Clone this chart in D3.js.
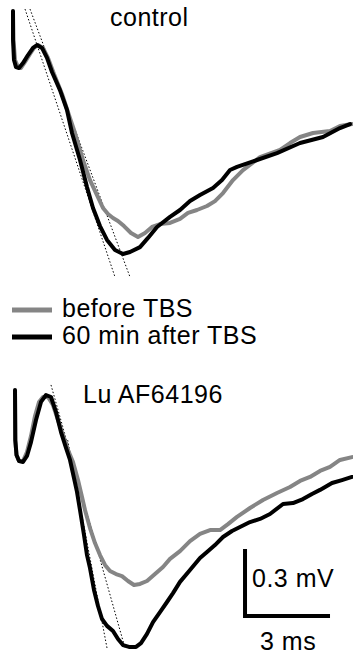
<!DOCTYPE html>
<html>
<head>
<meta charset="utf-8">
<script src="https://cdn.jsdelivr.net/npm/d3@7"></script>
<style>
  html, body { margin: 0; padding: 0; background: #fff; }
  svg { display: block; }
  text { font-family: "Liberation Sans", Arial, Helvetica, sans-serif; font-size: 25px; letter-spacing: 0.5px; fill: #000; }
</style>
</head>
<body>
<svg id="chart" width="353" height="654"></svg>
<script>
// ---- data: time (ms), voltage (mV) ----
const panelTitles = ["control", "Lu AF64196"];
const legendLabels = ["before TBS", "60 min after TBS"];
const scaleBarMs = 3;
const scaleBarMv = 0.3;
const scaleBarLabels = ["0.3 mV", "3 ms"];

// control, before TBS (gray)
const controlBeforeT = [0,0.018,0.071,0.176,0.282,0.424,0.6,0.741,0.882,1.059,1.235,1.447,1.73,2.012,2.188,2.471,2.718,2.965,3.177,3.353,3.53,3.706,3.918,4.165,4.412,4.659,4.906,5.189,5.542,5.895,6.177,6.495,6.848,7.13,7.413,7.766,8.119,8.719,9.425,9.778,10.131,10.59,11.19,11.542,11.966];
const controlBeforeV = [0.148,0.022,-0.067,-0.099,-0.103,-0.076,-0.040,-0.013,0,-0.013,-0.058,-0.130,-0.219,-0.327,-0.394,-0.515,-0.605,-0.672,-0.730,-0.757,-0.775,-0.788,-0.811,-0.842,-0.860,-0.842,-0.815,-0.802,-0.797,-0.779,-0.752,-0.739,-0.721,-0.699,-0.663,-0.605,-0.560,-0.502,-0.470,-0.439,-0.412,-0.394,-0.385,-0.363,-0.354];
// control, 60 min after TBS (black)
const controlAfterT = [0,0.001,0.035,0.106,0.212,0.353,0.529,0.706,0.847,1.024,1.2,1.377,1.659,1.906,2.083,2.365,2.612,2.824,3.071,3.318,3.6,3.883,4.13,4.483,4.765,5.083,5.542,5.895,6.248,6.601,7.06,7.378,7.66,7.907,8.613,9.319,10.131,10.943,11.542,11.895];
const controlAfterV = [0.152,0.022,-0.067,-0.099,-0.103,-0.081,-0.045,-0.013,0,-0.013,-0.058,-0.121,-0.202,-0.291,-0.394,-0.515,-0.636,-0.730,-0.811,-0.873,-0.918,-0.936,-0.927,-0.905,-0.864,-0.815,-0.770,-0.739,-0.699,-0.672,-0.640,-0.605,-0.560,-0.546,-0.515,-0.484,-0.439,-0.412,-0.372,-0.354];
// slope fits, control
const controlFitBlackT = [0.424, 3.6];
const controlFitBlackV = [0.161, -1.039];
const controlFitGrayT = [0.6, 4.13];
const controlFitGrayV = [0.161, -1.039];

// Lu AF64196, before TBS (gray)
const luBeforeT = [0.071,0.081,0.124,0.212,0.353,0.494,0.635,0.777,0.918,1.059,1.235,1.412,1.588,1.765,1.941,2.118,2.294,2.436,2.541,2.718,2.894,3.071,3.247,3.424,3.636,3.847,4.059,4.271,4.483,4.73,5.012,5.295,5.542,5.895,6.248,6.601,6.954,7.307,7.589,7.907,8.366,8.825,9.319,9.778,10.131,10.484,10.837,11.19,11.542,11.966];
const luBeforeV = [0.013,-0.202,-0.269,-0.296,-0.296,-0.255,-0.184,-0.094,-0.031,-0.009,-0.009,-0.045,-0.112,-0.179,-0.246,-0.300,-0.381,-0.457,-0.515,-0.596,-0.663,-0.717,-0.761,-0.788,-0.802,-0.811,-0.833,-0.851,-0.846,-0.833,-0.802,-0.770,-0.734,-0.699,-0.654,-0.622,-0.605,-0.605,-0.578,-0.546,-0.506,-0.470,-0.439,-0.412,-0.385,-0.367,-0.340,-0.322,-0.291,-0.278];
// Lu AF64196, 60 min after TBS (black)
const luAfterT = [0.071,0.081,0.124,0.212,0.353,0.494,0.635,0.812,0.988,1.165,1.341,1.518,1.694,1.871,2.012,2.153,2.259,2.365,2.506,2.612,2.718,2.859,3.0,3.141,3.318,3.53,3.706,3.883,4.095,4.342,4.518,4.73,4.942,5.189,5.436,5.648,5.895,6.248,6.601,6.848,7.13,7.413,7.73,8.013,8.366,8.719,9.072,9.531,9.883,10.236,10.554,10.837,11.26,11.613,11.966];
const luAfterV = [0.022,-0.202,-0.269,-0.296,-0.300,-0.273,-0.211,-0.112,-0.031,0,-0.009,-0.076,-0.166,-0.237,-0.291,-0.372,-0.434,-0.515,-0.627,-0.717,-0.775,-0.873,-0.945,-1.003,-1.034,-1.057,-1.093,-1.120,-1.128,-1.128,-1.111,-1.070,-1.017,-0.972,-0.927,-0.887,-0.837,-0.784,-0.730,-0.703,-0.672,-0.636,-0.609,-0.591,-0.569,-0.555,-0.533,-0.488,-0.484,-0.466,-0.443,-0.425,-0.394,-0.381,-0.367];
// slope fits, Lu AF64196
const luFitBlackT = [1.93, 3.318];
const luFitBlackV = [-0.202, -1.133];
const luFitGrayT = [1.341, 3.953];
const luFitGrayV = [0.045, -1.133];

// ---- drawing ----
const svg = d3.select("#chart");
const GRAY = "#858585";
const x = d3.scaleLinear().domain([0, 12]).range([13, 13 + 12 * 28.33]);
const yTop = d3.scaleLinear().domain([0, -1]).range([45, 45 + 223.3]);
const yBot = d3.scaleLinear().domain([0, -1]).range([395, 395 + 223.3]);

const zip = (t, v) => t.map((d, i) => [d, v[i]]);

function drawPanel(y, before, after, fitB, fitG) {
  const line = d3.line().x(d => x(d[0])).y(d => y(d[1])).curve(d3.curveLinear);
  const g = svg.append("g");
  [fitB, fitG].forEach(f => {
    g.append("path").attr("d", line(f)).attr("fill", "none")
      .attr("stroke", "#000").attr("stroke-width", 1).attr("stroke-dasharray", "1.5,2");
  });
  g.append("path").attr("d", line(before)).attr("fill", "none")
    .attr("stroke", GRAY).attr("stroke-width", 4).attr("stroke-linejoin", "round").attr("stroke-linecap", "round");
  g.append("path").attr("d", line(after)).attr("fill", "none")
    .attr("stroke", "#000").attr("stroke-width", 4).attr("stroke-linejoin", "round").attr("stroke-linecap", "round");
}

drawPanel(yTop, zip(controlBeforeT, controlBeforeV), zip(controlAfterT, controlAfterV),
  zip(controlFitBlackT, controlFitBlackV), zip(controlFitGrayT, controlFitGrayV));
drawPanel(yBot, zip(luBeforeT, luBeforeV), zip(luAfterT, luAfterV),
  zip(luFitBlackT, luFitBlackV), zip(luFitGrayT, luFitGrayV));

// titles
svg.append("text").attr("x", 110).attr("y", 26).text(panelTitles[0]);
svg.append("text").attr("x", 83).attr("y", 403).text(panelTitles[1]);

// legend
const legColors = [GRAY, "#000"];
legendLabels.forEach((lab, i) => {
  const yy = 310 + i * 27;
  svg.append("line").attr("x1", 12).attr("x2", 52).attr("y1", yy).attr("y2", yy)
    .attr("stroke", legColors[i]).attr("stroke-width", 5);
  svg.append("text").attr("x", 62).attr("y", yy + 7).text(lab);
});

// scale bar
const t0 = 8.19, v0 = -0.99;
const sx0 = x(t0), sx1 = x(t0 + scaleBarMs);
const sy0 = yBot(v0), sy1 = yBot(v0 + scaleBarMv);
svg.append("path")
  .attr("d", `M${sx0},${sy1} L${sx0},${sy0} L${sx1},${sy0}`)
  .attr("fill", "none").attr("stroke", "#000").attr("stroke-width", 4).attr("stroke-linejoin", "miter");
svg.append("text").attr("x", sx0 + 7).attr("y", sy1 + 38).text(scaleBarLabels[0]);
svg.append("text").attr("x", sx0 + 15).attr("y", sy0 + 34).text(scaleBarLabels[1]);
</script>
</body>
</html>
